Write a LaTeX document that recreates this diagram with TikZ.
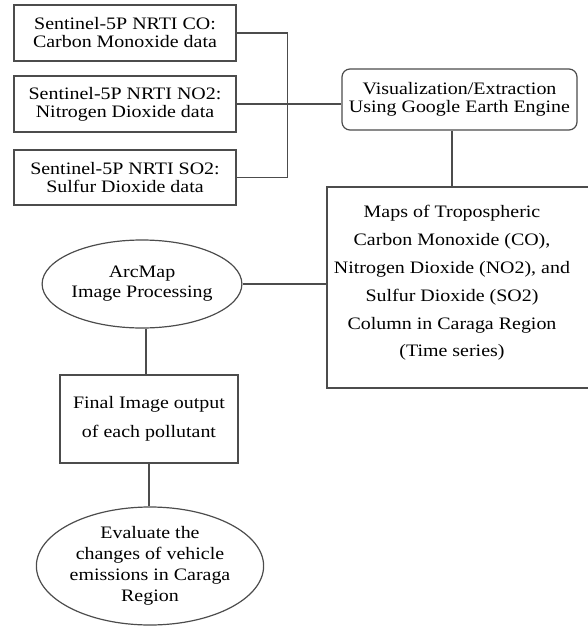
\documentclass[tikz,border=0pt]{standalone}
\usepackage{fontspec}
\setmainfont{Liberation Serif}[FakeStretch=1.14]
\usetikzlibrary{shapes.geometric}
\begin{document}
\begin{tikzpicture}[x=1pt,y=-1pt,
  every node/.style={font=\fontsize{17.5}{18}\selectfont, align=center, inner sep=0pt, text=black},
  box/.style={draw=black!70, line width=1.2pt, rectangle},
  oval/.style={draw=black!70, line width=1.2pt, ellipse},
  link/.style={draw=black!70, line width=1.2pt}]
\useasboundingbox (0,0) rectangle (588,627);
\node[box, minimum width=222, minimum height=56] (co) at (125,33)
  {Sentinel-5P NRTI CO:\\Carbon Monoxide data};
\node[box, minimum width=222, minimum height=56] (no) at (125,104)
  {Sentinel-5P NRTI NO2:\\Nitrogen Dioxide data};
\node[box, minimum width=222, minimum height=55] (so) at (125,177.5)
  {Sentinel-5P NRTI SO2:\\Sulfur Dioxide data};
\node[box, rounded corners=8pt, minimum width=235, minimum height=61] (gee) at (459.5,99.5)
  {Visualization/Extraction\\Using Google Earth Engine};
\node[box, minimum width=272, minimum height=201] (mapsbox) at (463,287.5) {};
\node[font=\fontsize{17.5}{27.8}\selectfont] (maps) at (452,283)
  {Maps of Tropospheric\\Carbon Monoxide (CO),\\Nitrogen Dioxide (NO2), and\\Sulfur Dioxide (SO2)\\Column in Caraga Region\\(Time series)};
\node[oval, minimum width=182, minimum height=88, font=\fontsize{17.5}{20}\selectfont] (arc) at (142,284)
  {ArcMap\\Image Processing};
\node[box, minimum width=178, minimum height=88, font=\fontsize{17.5}{29}\selectfont] (fin) at (149,419)
  {Final Image output\\of each pollutant};
\node[oval, minimum width=207, minimum height=118, font=\fontsize{17.5}{21}\selectfont] (eval) at (150,566)
  {Evaluate the\\changes of vehicle\\emissions in Caraga\\Region};
\draw[link] (co.east) -- ++(51,0) |- (so.east);
\draw[link] (no.east) -- (no.east -| gee.west);
\draw[link] ([xshift=-7.5pt]gee.south) -- ([xshift=-7.5pt]gee.south |- mapsbox.north);
\draw[link] (arc.east) -- (arc.east -| mapsbox.west);
\draw[link] ([xshift=4pt]arc.south) -- ([xshift=4pt]arc.south |- fin.north);
\draw[link] (fin.south) -- (fin.south |- eval.north);
\end{tikzpicture}
\end{document}
